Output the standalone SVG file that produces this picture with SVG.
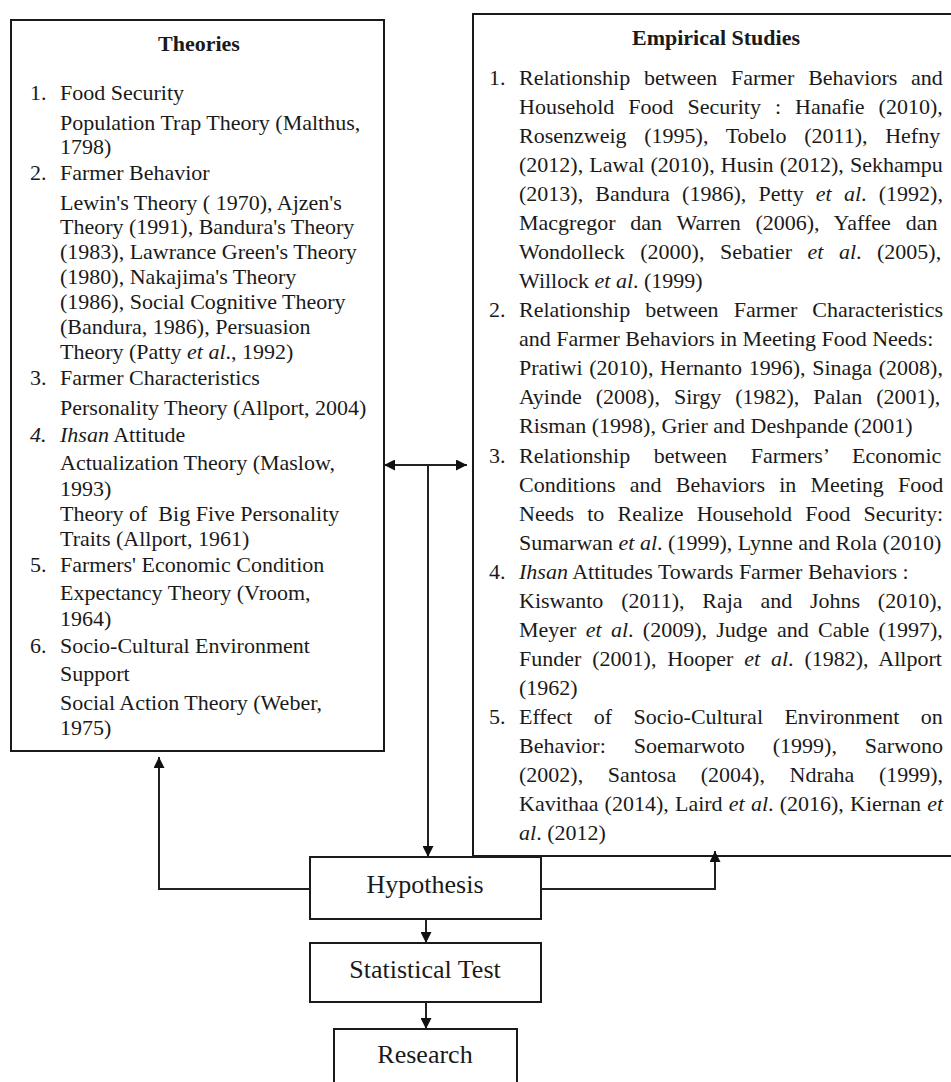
<svg xmlns="http://www.w3.org/2000/svg" width="951" height="1082" viewBox="0 0 951 1082">
<style>
.t{font-family:"Liberation Serif","Times New Roman",serif;font-size:22px;fill:#1a1a1a}
.b{font-weight:bold}
.i{font-style:italic}
.c{text-anchor:middle}
.big{font-size:26px}
.box{fill:#fff;stroke:#1a1a1a;stroke-width:2}
.con{fill:none;stroke:#222;stroke-width:2}
</style>
<defs>
<marker id="ah" viewBox="0 0 10 10" refX="10" refY="5" markerUnits="userSpaceOnUse" markerWidth="11" markerHeight="11" orient="auto-start-reverse">
<path d="M0,0 L10,5 L0,10 z" fill="#111"/>
</marker>
</defs>
<rect width="951" height="1082" fill="#fff"/>

<g id="theories">
<rect class="box" x="11" y="20" width="373" height="731"/>
<text class="t b c" x="199" y="51">Theories</text>
<text class="t" x="30" y="100">1.</text><text class="t" x="60" y="100">Food Security</text>
<text class="t" x="60" y="130">Population Trap Theory (Malthus,</text>
<text class="t" x="60" y="154">1798)</text>
<text class="t" x="30" y="180">2.</text><text class="t" x="60" y="180">Farmer Behavior</text>
<text class="t" x="60" y="210">Lewin's Theory ( 1970), Ajzen's</text>
<text class="t" x="60" y="234">Theory (1991), Bandura's Theory</text>
<text class="t" x="60" y="259">(1983), Lawrance Green's Theory</text>
<text class="t" x="60" y="284">(1980), Nakajima's Theory</text>
<text class="t" x="60" y="309">(1986), Social Cognitive Theory</text>
<text class="t" x="60" y="334">(Bandura, 1986), Persuasion</text>
<text class="t" x="60" y="359">Theory (Patty <tspan class="i">et al</tspan>., 1992)</text>
<text class="t" x="30" y="385">3.</text><text class="t" x="60" y="385">Farmer Characteristics</text>
<text class="t" x="60" y="415">Personality Theory (Allport, 2004)</text>
<text class="t i" x="30" y="442">4.</text><text class="t" x="60" y="442"><tspan class="i">Ihsan</tspan> Attitude</text>
<text class="t" x="60" y="470">Actualization Theory (Maslow,</text>
<text class="t" x="60" y="496">1993)</text>
<text class="t" x="60" y="521">Theory of&#160; Big Five Personality</text>
<text class="t" x="60" y="546">Traits (Allport, 1961)</text>
<text class="t" x="30" y="572">5.</text><text class="t" x="60" y="572">Farmers' Economic Condition</text>
<text class="t" x="60" y="600">Expectancy Theory (Vroom,</text>
<text class="t" x="60" y="626">1964)</text>
<text class="t" x="30" y="653">6.</text><text class="t" x="60" y="653">Socio-Cultural Environment</text>
<text class="t" x="60" y="681">Support</text>
<text class="t" x="60" y="710">Social Action Theory (Weber,</text>
<text class="t" x="60" y="735">1975)</text>
</g>

<g id="empirical">
<rect class="box" x="473" y="14" width="500" height="842"/>
<text class="t b c" x="716" y="45">Empirical Studies</text>
<text class="t" x="489" y="85">1.</text>
<text class="t" x="519" y="85" word-spacing="8.2">Relationship between Farmer Behaviors and</text>
<text class="t" x="519" y="114" word-spacing="8.5">Household Food Security : Hanafie (2010),</text>
<text class="t" x="519" y="143" word-spacing="12.2">Rosenzweig (1995), Tobelo (2011), Hefny</text>
<text class="t" x="519" y="172" word-spacing="0.7">(2012), Lawal (2010), Husin (2012), Sekhampu</text>
<text class="t" x="519" y="201" word-spacing="6.7">(2013), Bandura (1986), Petty <tspan class="i">et al</tspan>. (1992),</text>
<text class="t" x="519" y="230" word-spacing="9.3">Macgregor dan Warren (2006), Yaffee dan</text>
<text class="t" x="519" y="259" word-spacing="10">Wondolleck (2000), Sebatier <tspan class="i">et al</tspan>. (2005),</text>
<text class="t" x="519" y="288">Willock <tspan class="i">et al</tspan>. (1999)</text>
<text class="t" x="489" y="317">2.</text>
<text class="t" x="519" y="317" word-spacing="9.6">Relationship between Farmer Characteristics</text>
<text class="t" x="519" y="346">and Farmer Behaviors in Meeting Food Needs:</text>
<text class="t" x="519" y="375" word-spacing="1.2">Pratiwi (2010), Hernanto 1996), Sinaga (2008),</text>
<text class="t" x="519" y="404" word-spacing="8.5">Ayinde (2008), Sirgy (1982), Palan (2001),</text>
<text class="t" x="519" y="433">Risman (1998), Grier and Deshpande (2001)</text>
<text class="t" x="489" y="463">3.</text>
<text class="t" x="519" y="463" word-spacing="18.1">Relationship between Farmers’ Economic</text>
<text class="t" x="519" y="492" word-spacing="8.7">Conditions and Behaviors in Meeting Food</text>
<text class="t" x="519" y="521" word-spacing="7.7">Needs to Realize Household Food Security:</text>
<text class="t" x="519" y="550">Sumarwan <tspan class="i">et al</tspan>. (1999), Lynne and Rola (2010)</text>
<text class="t" x="489" y="579">4.</text>
<text class="t" x="519" y="579"><tspan class="i">Ihsan</tspan> Attitudes Towards Farmer Behaviors :</text>
<text class="t" x="519" y="608" word-spacing="12.3">Kiswanto (2011), Raja and Johns (2010),</text>
<text class="t" x="519" y="637" word-spacing="3.8">Meyer <tspan class="i">et al</tspan>. (2009), Judge and Cable (1997),</text>
<text class="t" x="519" y="666" word-spacing="5.4">Funder (2001), Hooper <tspan class="i">et al</tspan>. (1982), Allport</text>
<text class="t" x="519" y="695">(1962)</text>
<text class="t" x="489" y="724">5.</text>
<text class="t" x="519" y="724" word-spacing="15.9">Effect of Socio-Cultural Environment on</text>
<text class="t" x="519" y="753" word-spacing="22.4">Behavior: Soemarwoto (1999), Sarwono</text>
<text class="t" x="519" y="782" word-spacing="19.1">(2002), Santosa (2004), Ndraha (1999),</text>
<text class="t" x="519" y="811" word-spacing="0.7">Kavithaa (2014), Laird <tspan class="i">et al</tspan>. (2016), Kiernan <tspan class="i">et</tspan></text>
<text class="t" x="519" y="840"><tspan class="i">al</tspan>. (2012)</text>
</g>

<g id="hypothesis">
<rect class="box" x="310" y="857" width="231" height="62"/>
<text class="t big c" x="425" y="893">Hypothesis</text>
</g>

<g id="statistical-test">
<rect class="box" x="310" y="943" width="231" height="59"/>
<text class="t big c" x="425" y="978">Statistical Test</text>
</g>

<g id="research">
<rect class="box" x="334" y="1029" width="183" height="70"/>
<text class="t big c" x="425" y="1063">Research</text>
</g>

<g id="connectors">
<line class="con" x1="384" y1="465" x2="467" y2="465" stroke-width="2.5" marker-start="url(#ah)" marker-end="url(#ah)"/>
<line class="con" x1="428" y1="465" x2="428" y2="857" marker-end="url(#ah)"/>
<path class="con" d="M310,889 H159 V757" marker-end="url(#ah)"/>
<path class="con" d="M541,889 H715 V851" marker-end="url(#ah)"/>
<line class="con" x1="426" y1="919" x2="426" y2="943" marker-end="url(#ah)"/>
<line class="con" x1="426" y1="1002" x2="426" y2="1029" marker-end="url(#ah)"/>
</g>
</svg>
